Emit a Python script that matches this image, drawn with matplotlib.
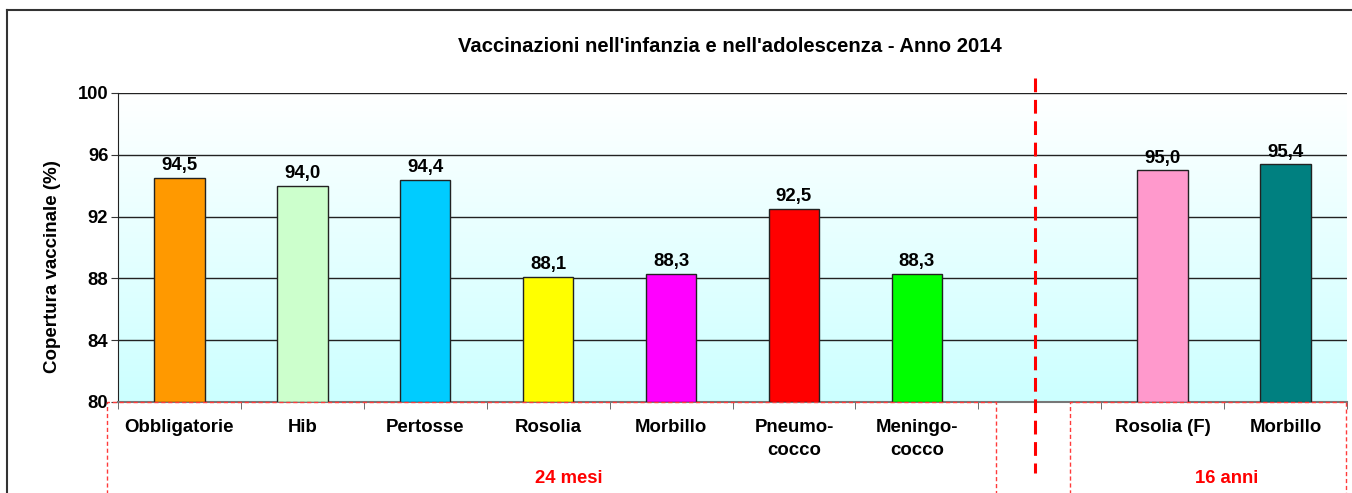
import numpy as np
import matplotlib
matplotlib.use("Agg")
import matplotlib.pyplot as plt
from matplotlib.lines import Line2D
import matplotlib.transforms as mtransforms

plt.rcParams['font.family'] = ['Liberation Sans', 'DejaVu Sans']
plt.rcParams['font.weight'] = 'bold'

# dati
categorie = ["Obbligatorie", "Hib", "Pertosse", "Rosolia", "Morbillo",
             "Pneumo-\ncocco", "Meningo-\ncocco", "", "Rosolia (F)", "Morbillo"]
valori = [94.5, 94.0, 94.4, 88.1, 88.3, 92.5, 88.3, None, 95.0, 95.4]
colori = ["#FF9900", "#CCFFCC", "#00CCFF", "#FFFF00", "#FF00FF",
          "#FF0000", "#00FF00", "none", "#FF99CC", "#008080"]
gruppi = ["24 mesi", "16 anni"]

fig = plt.figure(figsize=(13.52, 4.93), dpi=100)
ax = fig.add_axes([0.0873, 0.1846, 0.9090, 0.6268])

x = np.arange(len(categorie))
ax.set_xlim(-0.5, len(categorie) - 0.5)
ax.set_ylim(80, 100)

# sfondo sfumato bianco -> azzurro
grad = np.linspace(1, 0, 256).reshape(-1, 1)
top = np.array([1.0, 1.0, 1.0])
bot = np.array([0xCC, 0xFF, 0xFF]) / 255
img = grad[..., None] * top + (1 - grad[..., None]) * bot
ax.imshow(img, extent=[-0.5, len(categorie) - 0.5, 80, 100],
          aspect='auto', zorder=0, origin='upper')

# griglia
for yv in [84, 88, 92, 96, 100]:
    ax.axhline(yv, color='#222222', lw=1, zorder=1)

for xi, v, c in zip(x, valori, colori):
    if v is None:
        continue
    ax.bar(xi, v - 80, bottom=80, width=0.41, color=c,
           edgecolor='#222222', lw=1, zorder=3)
    ax.annotate(f"{v:.1f}".replace('.', ','), (xi, v), xytext=(0, 2.5),
                textcoords='offset points', ha='center', va='bottom',
                fontsize=13.4, fontweight='bold', zorder=4)

ax.set_yticks([80, 84, 88, 92, 96, 100])
ax.set_yticklabels(["80", "84", "88", "92", "96", "100"], fontsize=13.2,
                   fontweight='bold')
ax.tick_params(axis='y', direction='out', length=5, color='#333333', pad=2)

ax.set_xticks(x)
ax.set_xticklabels(categorie, fontsize=13.4, fontweight='bold', linespacing=1.45)
ax.set_xticks(np.arange(-0.5, len(categorie)), minor=True)
ax.tick_params(axis='x', which='major', length=0, pad=12)
ax.tick_params(axis='x', which='minor', direction='out', length=5,
               color='#555555')

for s in ['top', 'right']:
    ax.spines[s].set_visible(False)
ax.spines['left'].set_color('#222222')
ax.spines['bottom'].set_color('#777777')
ax.spines['bottom'].set_linewidth(1.5)

# linea verticale di separazione
trans = mtransforms.blended_transform_factory(ax.transData, ax.transAxes)
ax.add_line(Line2D([6.96, 6.96], [1.049, -0.23], transform=trans,
                   color='#FF0000', lw=2.2, linestyle=(0, (4.5, 2.5)),
                   clip_on=False, zorder=5))

# riquadri tratteggiati dei gruppi
box_col = '#FF3B3B'
for x0, x1 in [(-0.589, 6.646), (7.248, 9.49)]:
    ax.add_line(Line2D([x0, x0, x1, x1], [-0.35, 0, 0, -0.35],
                       transform=trans, color=box_col, lw=1,
                       linestyle=(0, (3, 2)), clip_on=False, zorder=5))

ax.text(3.17, -0.248, gruppi[0], transform=trans, ha='center', va='center',
        color='red', fontsize=13.3, fontweight='bold')
ax.text(8.52, -0.248, gruppi[1], transform=trans, ha='center', va='center',
        color='red', fontsize=13.3, fontweight='bold')

fig.text(0.0385, 0.46, "Copertura vaccinale (%)", rotation=90,
         ha='center', va='center', fontsize=13.5, fontweight='bold')
fig.text(0.54, 0.905, "Vaccinazioni nell'infanzia e nell'adolescenza - Anno 2014",
         ha='center', va='center', fontsize=14.6, fontweight='bold')

# cornice esterna
fig.add_artist(Line2D([0.0052, 1.0], [0.9797, 0.9797], transform=fig.transFigure,
                      color='#333333', lw=1.5))
fig.add_artist(Line2D([0.0052, 0.0052], [0.0, 0.9797], transform=fig.transFigure,
                      color='#333333', lw=1.5))

fig.savefig("out.png", dpi=100)
